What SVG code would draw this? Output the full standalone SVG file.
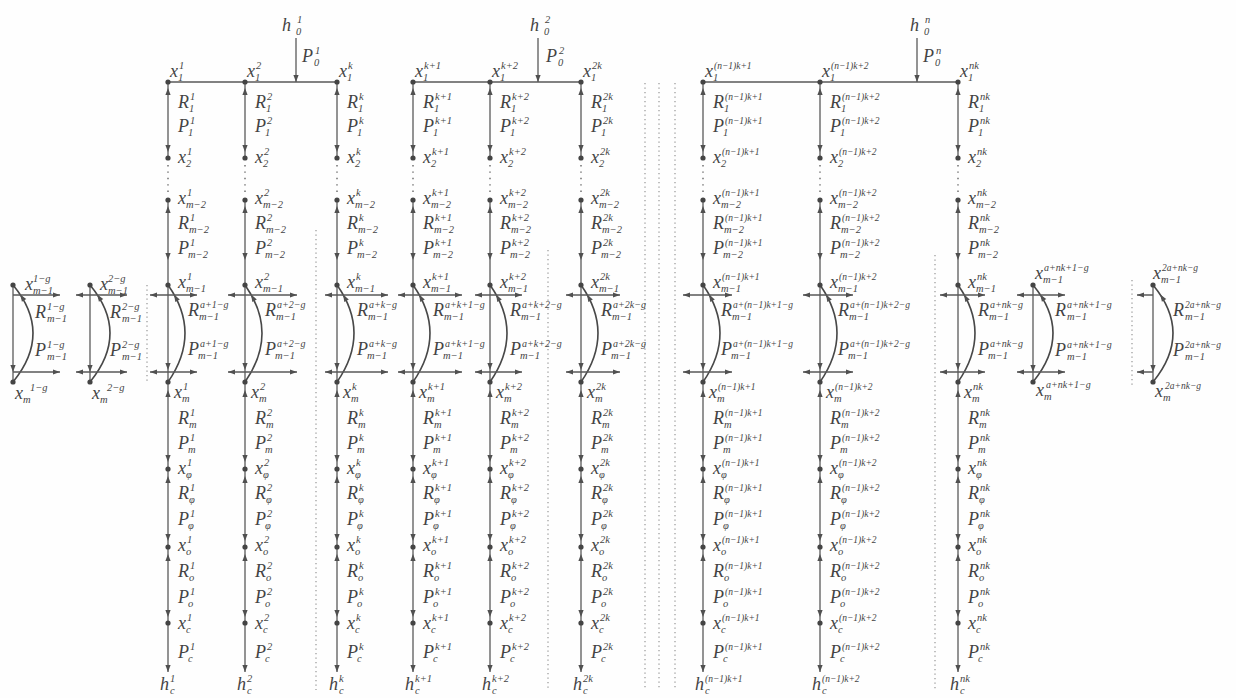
<svg xmlns="http://www.w3.org/2000/svg" width="1236" height="698" viewBox="0 0 1236 698">
<style>
.t{font-family:"Liberation Serif","Times New Roman","DejaVu Serif",serif;font-style:italic;font-size:18px;fill:#444}
.s{font-size:10.5px}
.a{font-size:10px}
.q{font-size:9.5px}
.ln{stroke:#5a5a5a;stroke-width:1.3;fill:none}
.arc{stroke:#484848;stroke-width:1.6;fill:none}
.dt{stroke:#666;stroke-width:1.4;stroke-dasharray:1.4 5;fill:none}
.sep{stroke:#8a8a8a;stroke-width:1.1;stroke-dasharray:1.3 3.2;fill:none}
.ah{fill:#505050}
.nd{fill:#444}
</style>
<defs>
<path id="hu" class="ah" d="M0,0L-2.6,7L2.6,7Z"/>
<path id="hd" class="ah" d="M0,0L-2.6,-7L2.6,-7Z"/>
<path id="hl" class="ah" d="M0,0L7,-2.6L7,2.6Z"/>
<path id="hr" class="ah" d="M0,0L-7,-2.6L-7,2.6Z"/>
<g id="colVert">
<path class="ln" d="M0,82V158M0,200V672"/>
<path class="dt" d="M0,165V196"/>
<use href="#hu" y="88"/><use href="#hd" y="152"/>
<use href="#hu" y="206"/><use href="#hd" y="260"/>
<use href="#hd" y="370"/>
<use href="#hu" y="390"/><use href="#hd" y="462"/>
<use href="#hu" y="476"/><use href="#hd" y="541"/>
<use href="#hu" y="554"/><use href="#hd" y="617"/>
<use href="#hd" y="672"/>
<path class="arc" d="M0,382Q34,333 0,285"/>
<use href="#hr" transform="translate(6.1,294.6) rotate(-119.5)"/>
</g>
<g id="loopVert">
<path class="ln" d="M0,285V382"/>
<use href="#hd" y="372"/>
<path class="arc" d="M0,382Q40,333 0,285"/>
<use href="#hr" transform="translate(7.2,294.6) rotate(-123.6)"/>
</g>
<g id="hRow">
<path class="ln" d="M150,0H197M228,0H297M325,0H388M398,0H462M475,0H522M566,0H620M683,0H732M803,0H853M940,0H985M13,0H60M76,0H127M1017,0H1065M1137,0H1153"/>
<use href="#hl" x="150"/><use href="#hr" x="197"/>
<use href="#hl" x="228"/><use href="#hr" x="297"/>
<use href="#hl" x="325"/><use href="#hr" x="388"/>
<use href="#hl" x="398"/><use href="#hr" x="462"/>
<use href="#hl" x="475"/><use href="#hr" x="522"/>
<use href="#hl" x="566"/><use href="#hr" x="620"/>
<use href="#hl" x="683"/><use href="#hr" x="732"/>
<use href="#hl" x="803"/><use href="#hr" x="853"/>
<use href="#hl" x="940"/><use href="#hr" x="985"/>
<use href="#hr" x="60"/>
<use href="#hl" x="76"/><use href="#hr" x="127"/>
<use href="#hl" x="1017"/><use href="#hr" x="1065"/>
<use href="#hl" x="1137"/>
</g>
</defs>
<rect width="1236" height="698" fill="#fefefe"/>

<g id="separators">
<path class="sep" d="M147,285V383M316,230V690M548,250V690M645,83V690M659,83V690M675,83V690M935,255V690M1132,280V385"/>
</g>

<g id="connectors">
<path class="ln" d="M168,82H337M413,82H581M703,82H958M296,38V82M538,38V82M917,38V82"/>
<use href="#hd" x="296" y="82"/><use href="#hd" x="538" y="82"/><use href="#hd" x="917" y="82"/>
<use href="#colVert" x="168"/><use href="#colVert" x="245"/><use href="#colVert" x="337"/>
<use href="#colVert" x="413"/><use href="#colVert" x="490"/><use href="#colVert" x="581"/>
<use href="#colVert" x="703"/><use href="#colVert" x="820"/><use href="#colVert" x="958"/>
<use href="#loopVert" x="13"/><use href="#loopVert" x="90"/><use href="#loopVert" x="1033"/><use href="#loopVert" x="1153"/>
<use href="#hRow" y="295"/><use href="#hRow" y="372"/>

<g class="t">
<text x="302" y="62">P<tspan class="s" x="315" y="54">1</tspan><tspan class="s" x="314" y="65.5">0</tspan></text>
<text x="546" y="62">P<tspan class="s" x="559" y="54">2</tspan><tspan class="s" x="558" y="65.5">0</tspan></text>
<text x="923" y="62">P<tspan class="s" x="936" y="54">n</tspan><tspan class="s" x="935" y="65.5">0</tspan></text>
</g>

<g id="lbl-c1" class="t" transform="translate(168,0)">
<text x="10" y="108">R<tspan class="s" x="22" y="100">1</tspan><tspan class="s" x="21" y="111.5">1</tspan></text>
<text x="10" y="132">P<tspan class="s" x="22" y="124">1</tspan><tspan class="s" x="20" y="135.5">1</tspan></text>
<text x="10" y="229">R<tspan class="s" x="22" y="221">1</tspan><tspan class="s" x="21" y="232.5">m−2</tspan></text>
<text x="10" y="254">P<tspan class="s" x="22" y="246">1</tspan><tspan class="s" x="20" y="257.5">m−2</tspan></text>
<text x="20" y="316">R<tspan class="a" x="32" y="308">a+1−g</tspan><tspan class="s" x="31" y="319.5">m−1</tspan></text>
<text x="20" y="355">P<tspan class="a" x="32" y="347">a+1−g</tspan><tspan class="s" x="30" y="358.5">m−1</tspan></text>
<text x="10" y="424">R<tspan class="s" x="22" y="416">1</tspan><tspan class="s" x="21" y="427.5">m</tspan></text>
<text x="10" y="449">P<tspan class="s" x="22" y="441">1</tspan><tspan class="s" x="20" y="452.5">m</tspan></text>
<text x="10" y="499">R<tspan class="s" x="22" y="491">1</tspan><tspan class="s" x="21" y="502.5">φ</tspan></text>
<text x="10" y="525">P<tspan class="s" x="22" y="517">1</tspan><tspan class="s" x="20" y="528.5">φ</tspan></text>
<text x="10" y="577">R<tspan class="s" x="22" y="569">1</tspan><tspan class="s" x="21" y="580.5">o</tspan></text>
<text x="10" y="603">P<tspan class="s" x="22" y="595">1</tspan><tspan class="s" x="20" y="606.5">o</tspan></text>
<text x="10" y="658">P<tspan class="s" x="22" y="650">1</tspan><tspan class="s" x="20" y="661.5">c</tspan></text>
</g>
<g id="lbl-c2" class="t" transform="translate(245,0)">
<text x="10" y="108">R<tspan class="s" x="22" y="100">2</tspan><tspan class="s" x="21" y="111.5">1</tspan></text>
<text x="10" y="132">P<tspan class="s" x="22" y="124">2</tspan><tspan class="s" x="20" y="135.5">1</tspan></text>
<text x="10" y="229">R<tspan class="s" x="22" y="221">2</tspan><tspan class="s" x="21" y="232.5">m−2</tspan></text>
<text x="10" y="254">P<tspan class="s" x="22" y="246">2</tspan><tspan class="s" x="20" y="257.5">m−2</tspan></text>
<text x="20" y="316">R<tspan class="a" x="32" y="308">a+2−g</tspan><tspan class="s" x="31" y="319.5">m−1</tspan></text>
<text x="20" y="355">P<tspan class="a" x="32" y="347">a+2−g</tspan><tspan class="s" x="30" y="358.5">m−1</tspan></text>
<text x="10" y="424">R<tspan class="s" x="22" y="416">2</tspan><tspan class="s" x="21" y="427.5">m</tspan></text>
<text x="10" y="449">P<tspan class="s" x="22" y="441">2</tspan><tspan class="s" x="20" y="452.5">m</tspan></text>
<text x="10" y="499">R<tspan class="s" x="22" y="491">2</tspan><tspan class="s" x="21" y="502.5">φ</tspan></text>
<text x="10" y="525">P<tspan class="s" x="22" y="517">2</tspan><tspan class="s" x="20" y="528.5">φ</tspan></text>
<text x="10" y="577">R<tspan class="s" x="22" y="569">2</tspan><tspan class="s" x="21" y="580.5">o</tspan></text>
<text x="10" y="603">P<tspan class="s" x="22" y="595">2</tspan><tspan class="s" x="20" y="606.5">o</tspan></text>
<text x="10" y="658">P<tspan class="s" x="22" y="650">2</tspan><tspan class="s" x="20" y="661.5">c</tspan></text>
</g>
<g id="lbl-ck" class="t" transform="translate(337,0)">
<text x="10" y="108">R<tspan class="s" x="22" y="100">k</tspan><tspan class="s" x="21" y="111.5">1</tspan></text>
<text x="10" y="132">P<tspan class="s" x="22" y="124">k</tspan><tspan class="s" x="20" y="135.5">1</tspan></text>
<text x="10" y="229">R<tspan class="s" x="22" y="221">k</tspan><tspan class="s" x="21" y="232.5">m−2</tspan></text>
<text x="10" y="254">P<tspan class="s" x="22" y="246">k</tspan><tspan class="s" x="20" y="257.5">m−2</tspan></text>
<text x="20" y="316">R<tspan class="a" x="32" y="308">a+k−g</tspan><tspan class="s" x="31" y="319.5">m−1</tspan></text>
<text x="20" y="355">P<tspan class="a" x="32" y="347">a+k−g</tspan><tspan class="s" x="30" y="358.5">m−1</tspan></text>
<text x="10" y="424">R<tspan class="s" x="22" y="416">k</tspan><tspan class="s" x="21" y="427.5">m</tspan></text>
<text x="10" y="449">P<tspan class="s" x="22" y="441">k</tspan><tspan class="s" x="20" y="452.5">m</tspan></text>
<text x="10" y="499">R<tspan class="s" x="22" y="491">k</tspan><tspan class="s" x="21" y="502.5">φ</tspan></text>
<text x="10" y="525">P<tspan class="s" x="22" y="517">k</tspan><tspan class="s" x="20" y="528.5">φ</tspan></text>
<text x="10" y="577">R<tspan class="s" x="22" y="569">k</tspan><tspan class="s" x="21" y="580.5">o</tspan></text>
<text x="10" y="603">P<tspan class="s" x="22" y="595">k</tspan><tspan class="s" x="20" y="606.5">o</tspan></text>
<text x="10" y="658">P<tspan class="s" x="22" y="650">k</tspan><tspan class="s" x="20" y="661.5">c</tspan></text>
</g>
<g id="lbl-ck1" class="t" transform="translate(413,0)">
<text x="10" y="108">R<tspan class="s" x="22" y="100">k+1</tspan><tspan class="s" x="21" y="111.5">1</tspan></text>
<text x="10" y="132">P<tspan class="s" x="22" y="124">k+1</tspan><tspan class="s" x="20" y="135.5">1</tspan></text>
<text x="10" y="229">R<tspan class="s" x="22" y="221">k+1</tspan><tspan class="s" x="21" y="232.5">m−2</tspan></text>
<text x="10" y="254">P<tspan class="s" x="22" y="246">k+1</tspan><tspan class="s" x="20" y="257.5">m−2</tspan></text>
<text x="20" y="316">R<tspan class="a" x="32" y="308">a+k+1−g</tspan><tspan class="s" x="31" y="319.5">m−1</tspan></text>
<text x="20" y="355">P<tspan class="a" x="32" y="347">a+k+1−g</tspan><tspan class="s" x="30" y="358.5">m−1</tspan></text>
<text x="10" y="424">R<tspan class="s" x="22" y="416">k+1</tspan><tspan class="s" x="21" y="427.5">m</tspan></text>
<text x="10" y="449">P<tspan class="s" x="22" y="441">k+1</tspan><tspan class="s" x="20" y="452.5">m</tspan></text>
<text x="10" y="499">R<tspan class="s" x="22" y="491">k+1</tspan><tspan class="s" x="21" y="502.5">φ</tspan></text>
<text x="10" y="525">P<tspan class="s" x="22" y="517">k+1</tspan><tspan class="s" x="20" y="528.5">φ</tspan></text>
<text x="10" y="577">R<tspan class="s" x="22" y="569">k+1</tspan><tspan class="s" x="21" y="580.5">o</tspan></text>
<text x="10" y="603">P<tspan class="s" x="22" y="595">k+1</tspan><tspan class="s" x="20" y="606.5">o</tspan></text>
<text x="10" y="658">P<tspan class="s" x="22" y="650">k+1</tspan><tspan class="s" x="20" y="661.5">c</tspan></text>
</g>
<g id="lbl-ck2" class="t" transform="translate(490,0)">
<text x="10" y="108">R<tspan class="s" x="22" y="100">k+2</tspan><tspan class="s" x="21" y="111.5">1</tspan></text>
<text x="10" y="132">P<tspan class="s" x="22" y="124">k+2</tspan><tspan class="s" x="20" y="135.5">1</tspan></text>
<text x="10" y="229">R<tspan class="s" x="22" y="221">k+2</tspan><tspan class="s" x="21" y="232.5">m−2</tspan></text>
<text x="10" y="254">P<tspan class="s" x="22" y="246">k+2</tspan><tspan class="s" x="20" y="257.5">m−2</tspan></text>
<text x="20" y="316">R<tspan class="a" x="32" y="308">a+k+2−g</tspan><tspan class="s" x="31" y="319.5">m−1</tspan></text>
<text x="20" y="355">P<tspan class="a" x="32" y="347">a+k+2−g</tspan><tspan class="s" x="30" y="358.5">m−1</tspan></text>
<text x="10" y="424">R<tspan class="s" x="22" y="416">k+2</tspan><tspan class="s" x="21" y="427.5">m</tspan></text>
<text x="10" y="449">P<tspan class="s" x="22" y="441">k+2</tspan><tspan class="s" x="20" y="452.5">m</tspan></text>
<text x="10" y="499">R<tspan class="s" x="22" y="491">k+2</tspan><tspan class="s" x="21" y="502.5">φ</tspan></text>
<text x="10" y="525">P<tspan class="s" x="22" y="517">k+2</tspan><tspan class="s" x="20" y="528.5">φ</tspan></text>
<text x="10" y="577">R<tspan class="s" x="22" y="569">k+2</tspan><tspan class="s" x="21" y="580.5">o</tspan></text>
<text x="10" y="603">P<tspan class="s" x="22" y="595">k+2</tspan><tspan class="s" x="20" y="606.5">o</tspan></text>
<text x="10" y="658">P<tspan class="s" x="22" y="650">k+2</tspan><tspan class="s" x="20" y="661.5">c</tspan></text>
</g>
<g id="lbl-c2k" class="t" transform="translate(581,0)">
<text x="10" y="108">R<tspan class="s" x="22" y="100">2k</tspan><tspan class="s" x="21" y="111.5">1</tspan></text>
<text x="10" y="132">P<tspan class="s" x="22" y="124">2k</tspan><tspan class="s" x="20" y="135.5">1</tspan></text>
<text x="10" y="229">R<tspan class="s" x="22" y="221">2k</tspan><tspan class="s" x="21" y="232.5">m−2</tspan></text>
<text x="10" y="254">P<tspan class="s" x="22" y="246">2k</tspan><tspan class="s" x="20" y="257.5">m−2</tspan></text>
<text x="20" y="316">R<tspan class="a" x="32" y="308">a+2k−g</tspan><tspan class="s" x="31" y="319.5">m−1</tspan></text>
<text x="20" y="355">P<tspan class="a" x="32" y="347">a+2k−g</tspan><tspan class="s" x="30" y="358.5">m−1</tspan></text>
<text x="10" y="424">R<tspan class="s" x="22" y="416">2k</tspan><tspan class="s" x="21" y="427.5">m</tspan></text>
<text x="10" y="449">P<tspan class="s" x="22" y="441">2k</tspan><tspan class="s" x="20" y="452.5">m</tspan></text>
<text x="10" y="499">R<tspan class="s" x="22" y="491">2k</tspan><tspan class="s" x="21" y="502.5">φ</tspan></text>
<text x="10" y="525">P<tspan class="s" x="22" y="517">2k</tspan><tspan class="s" x="20" y="528.5">φ</tspan></text>
<text x="10" y="577">R<tspan class="s" x="22" y="569">2k</tspan><tspan class="s" x="21" y="580.5">o</tspan></text>
<text x="10" y="603">P<tspan class="s" x="22" y="595">2k</tspan><tspan class="s" x="20" y="606.5">o</tspan></text>
<text x="10" y="658">P<tspan class="s" x="22" y="650">2k</tspan><tspan class="s" x="20" y="661.5">c</tspan></text>
</g>
<g id="lbl-cn1" class="t" transform="translate(703,0)">
<text x="10" y="108">R<tspan class="q" x="22" y="100">(n−1)k+1</tspan><tspan class="s" x="21" y="111.5">1</tspan></text>
<text x="10" y="132">P<tspan class="q" x="22" y="124">(n−1)k+1</tspan><tspan class="s" x="20" y="135.5">1</tspan></text>
<text x="10" y="229">R<tspan class="q" x="22" y="221">(n−1)k+1</tspan><tspan class="s" x="21" y="232.5">m−2</tspan></text>
<text x="10" y="254">P<tspan class="q" x="22" y="246">(n−1)k+1</tspan><tspan class="s" x="20" y="257.5">m−2</tspan></text>
<text x="18" y="316">R<tspan class="q" x="30" y="308">a+(n−1)k+1−g</tspan><tspan class="s" x="29" y="319.5">m−1</tspan></text>
<text x="18" y="355">P<tspan class="q" x="30" y="347">a+(n−1)k+1−g</tspan><tspan class="s" x="28" y="358.5">m−1</tspan></text>
<text x="10" y="424">R<tspan class="q" x="22" y="416">(n−1)k+1</tspan><tspan class="s" x="21" y="427.5">m</tspan></text>
<text x="10" y="449">P<tspan class="q" x="22" y="441">(n−1)k+1</tspan><tspan class="s" x="20" y="452.5">m</tspan></text>
<text x="10" y="499">R<tspan class="q" x="22" y="491">(n−1)k+1</tspan><tspan class="s" x="21" y="502.5">φ</tspan></text>
<text x="10" y="525">P<tspan class="q" x="22" y="517">(n−1)k+1</tspan><tspan class="s" x="20" y="528.5">φ</tspan></text>
<text x="10" y="577">R<tspan class="q" x="22" y="569">(n−1)k+1</tspan><tspan class="s" x="21" y="580.5">o</tspan></text>
<text x="10" y="603">P<tspan class="q" x="22" y="595">(n−1)k+1</tspan><tspan class="s" x="20" y="606.5">o</tspan></text>
<text x="10" y="658">P<tspan class="q" x="22" y="650">(n−1)k+1</tspan><tspan class="s" x="20" y="661.5">c</tspan></text>
</g>
<g id="lbl-cn2" class="t" transform="translate(820,0)">
<text x="10" y="108">R<tspan class="q" x="22" y="100">(n−1)k+2</tspan><tspan class="s" x="21" y="111.5">1</tspan></text>
<text x="10" y="132">P<tspan class="q" x="22" y="124">(n−1)k+2</tspan><tspan class="s" x="20" y="135.5">1</tspan></text>
<text x="10" y="229">R<tspan class="q" x="22" y="221">(n−1)k+2</tspan><tspan class="s" x="21" y="232.5">m−2</tspan></text>
<text x="10" y="254">P<tspan class="q" x="22" y="246">(n−1)k+2</tspan><tspan class="s" x="20" y="257.5">m−2</tspan></text>
<text x="18" y="316">R<tspan class="q" x="30" y="308">a+(n−1)k+2−g</tspan><tspan class="s" x="29" y="319.5">m−1</tspan></text>
<text x="18" y="355">P<tspan class="q" x="30" y="347">a+(n−1)k+2−g</tspan><tspan class="s" x="28" y="358.5">m−1</tspan></text>
<text x="10" y="424">R<tspan class="q" x="22" y="416">(n−1)k+2</tspan><tspan class="s" x="21" y="427.5">m</tspan></text>
<text x="10" y="449">P<tspan class="q" x="22" y="441">(n−1)k+2</tspan><tspan class="s" x="20" y="452.5">m</tspan></text>
<text x="10" y="499">R<tspan class="q" x="22" y="491">(n−1)k+2</tspan><tspan class="s" x="21" y="502.5">φ</tspan></text>
<text x="10" y="525">P<tspan class="q" x="22" y="517">(n−1)k+2</tspan><tspan class="s" x="20" y="528.5">φ</tspan></text>
<text x="10" y="577">R<tspan class="q" x="22" y="569">(n−1)k+2</tspan><tspan class="s" x="21" y="580.5">o</tspan></text>
<text x="10" y="603">P<tspan class="q" x="22" y="595">(n−1)k+2</tspan><tspan class="s" x="20" y="606.5">o</tspan></text>
<text x="10" y="658">P<tspan class="q" x="22" y="650">(n−1)k+2</tspan><tspan class="s" x="20" y="661.5">c</tspan></text>
</g>
<g id="lbl-cnk" class="t" transform="translate(958,0)">
<text x="10" y="108">R<tspan class="s" x="22" y="100">nk</tspan><tspan class="s" x="21" y="111.5">1</tspan></text>
<text x="10" y="132">P<tspan class="s" x="22" y="124">nk</tspan><tspan class="s" x="20" y="135.5">1</tspan></text>
<text x="10" y="229">R<tspan class="s" x="22" y="221">nk</tspan><tspan class="s" x="21" y="232.5">m−2</tspan></text>
<text x="10" y="254">P<tspan class="s" x="22" y="246">nk</tspan><tspan class="s" x="20" y="257.5">m−2</tspan></text>
<text x="20" y="316">R<tspan class="a" x="32" y="308">a+nk−g</tspan><tspan class="s" x="31" y="319.5">m−1</tspan></text>
<text x="20" y="355">P<tspan class="a" x="32" y="347">a+nk−g</tspan><tspan class="s" x="30" y="358.5">m−1</tspan></text>
<text x="10" y="424">R<tspan class="s" x="22" y="416">nk</tspan><tspan class="s" x="21" y="427.5">m</tspan></text>
<text x="10" y="449">P<tspan class="s" x="22" y="441">nk</tspan><tspan class="s" x="20" y="452.5">m</tspan></text>
<text x="10" y="499">R<tspan class="s" x="22" y="491">nk</tspan><tspan class="s" x="21" y="502.5">φ</tspan></text>
<text x="10" y="525">P<tspan class="s" x="22" y="517">nk</tspan><tspan class="s" x="20" y="528.5">φ</tspan></text>
<text x="10" y="577">R<tspan class="s" x="22" y="569">nk</tspan><tspan class="s" x="21" y="580.5">o</tspan></text>
<text x="10" y="603">P<tspan class="s" x="22" y="595">nk</tspan><tspan class="s" x="20" y="606.5">o</tspan></text>
<text x="10" y="658">P<tspan class="s" x="22" y="650">nk</tspan><tspan class="s" x="20" y="661.5">c</tspan></text>
</g>
<g id="lbl-L1" class="t" transform="translate(13,0)">
<text x="22" y="318">R<tspan class="s" x="34" y="310">1−g</tspan><tspan class="s" x="34" y="321.5">m−1</tspan></text>
<text x="22" y="356">P<tspan class="s" x="34" y="348">1−g</tspan><tspan class="s" x="34" y="359.5">m−1</tspan></text>
</g>
<g id="lbl-L2" class="t" transform="translate(90,0)">
<text x="20" y="318">R<tspan class="s" x="32" y="310">2−g</tspan><tspan class="s" x="32" y="321.5">m−1</tspan></text>
<text x="20" y="356">P<tspan class="s" x="32" y="348">2−g</tspan><tspan class="s" x="32" y="359.5">m−1</tspan></text>
</g>
<g id="lbl-R1" class="t" transform="translate(1033,0)">
<text x="22" y="316">R<tspan class="a" x="34" y="308">a+nk+1−g</tspan><tspan class="s" x="34" y="319.5">m−1</tspan></text>
<text x="22" y="356">P<tspan class="a" x="34" y="348">a+nk+1−g</tspan><tspan class="s" x="34" y="359.5">m−1</tspan></text>
</g>
<g id="lbl-R2" class="t" transform="translate(1153,0)">
<text x="20" y="316">R<tspan class="q" x="32" y="308">2a+nk−g</tspan><tspan class="s" x="32" y="319.5">m−1</tspan></text>
<text x="20" y="356">P<tspan class="q" x="32" y="348">2a+nk−g</tspan><tspan class="s" x="32" y="359.5">m−1</tspan></text>
</g>
</g>

<g id="nodes" class="t">
<g id="h0-1"><text x="282" y="31">h<tspan class="s" x="297" y="23">1</tspan><tspan class="s" x="296" y="34.5">0</tspan></text></g>
<g id="h0-2"><text x="530" y="31">h<tspan class="s" x="545" y="23">2</tspan><tspan class="s" x="544" y="34.5">0</tspan></text></g>
<g id="h0-n"><text x="910" y="31">h<tspan class="s" x="925" y="23">n</tspan><tspan class="s" x="924" y="34.5">0</tspan></text></g>

<g id="nodes-c1" transform="translate(168,0)">
<g id="c1-x1"><circle class="nd" cy="82" r="2.6"/><text x="2" y="77">x<tspan class="s" x="11" y="69">1</tspan><tspan class="s" x="10" y="80.5">1</tspan></text></g>
<g id="c1-x2"><circle class="nd" cy="158" r="2.6"/><text x="10" y="163">x<tspan class="s" x="19" y="155">1</tspan><tspan class="s" x="18" y="166.5">2</tspan></text></g>
<g id="c1-xm2"><circle class="nd" cy="200" r="2.6"/><text x="10" y="204">x<tspan class="s" x="19" y="196">1</tspan><tspan class="s" x="18" y="207.5">m−2</tspan></text></g>
<g id="c1-xm1"><circle class="nd" cy="285" r="2.6"/><text x="10" y="288">x<tspan class="s" x="19" y="280">1</tspan><tspan class="s" x="18" y="291.5">m−1</tspan></text></g>
<g id="c1-xm"><circle class="nd" cy="382" r="2.6"/><text x="6" y="398">x<tspan class="s" x="15" y="390">1</tspan><tspan class="s" x="14" y="401.5">m</tspan></text></g>
<g id="c1-xphi"><circle class="nd" cy="469" r="2.6"/><text x="10" y="474">x<tspan class="s" x="19" y="466">1</tspan><tspan class="s" x="18" y="477.5">φ</tspan></text></g>
<g id="c1-xo"><circle class="nd" cy="547" r="2.6"/><text x="10" y="551">x<tspan class="s" x="19" y="543">1</tspan><tspan class="s" x="18" y="554.5">o</tspan></text></g>
<g id="c1-xc"><circle class="nd" cy="623" r="2.6"/><text x="10" y="629">x<tspan class="s" x="19" y="621">1</tspan><tspan class="s" x="18" y="632.5">c</tspan></text></g>
<g id="c1-hc"><text x="-8" y="690">h<tspan class="s" x="2" y="682">1</tspan><tspan class="s" x="2" y="693.5">c</tspan></text></g>
</g>
<g id="nodes-c2" transform="translate(245,0)">
<g id="c2-x1"><circle class="nd" cy="82" r="2.6"/><text x="2" y="77">x<tspan class="s" x="11" y="69">2</tspan><tspan class="s" x="10" y="80.5">1</tspan></text></g>
<g id="c2-x2"><circle class="nd" cy="158" r="2.6"/><text x="10" y="163">x<tspan class="s" x="19" y="155">2</tspan><tspan class="s" x="18" y="166.5">2</tspan></text></g>
<g id="c2-xm2"><circle class="nd" cy="200" r="2.6"/><text x="10" y="204">x<tspan class="s" x="19" y="196">2</tspan><tspan class="s" x="18" y="207.5">m−2</tspan></text></g>
<g id="c2-xm1"><circle class="nd" cy="285" r="2.6"/><text x="10" y="288">x<tspan class="s" x="19" y="280">2</tspan><tspan class="s" x="18" y="291.5">m−1</tspan></text></g>
<g id="c2-xm"><circle class="nd" cy="382" r="2.6"/><text x="6" y="398">x<tspan class="s" x="15" y="390">2</tspan><tspan class="s" x="14" y="401.5">m</tspan></text></g>
<g id="c2-xphi"><circle class="nd" cy="469" r="2.6"/><text x="10" y="474">x<tspan class="s" x="19" y="466">2</tspan><tspan class="s" x="18" y="477.5">φ</tspan></text></g>
<g id="c2-xo"><circle class="nd" cy="547" r="2.6"/><text x="10" y="551">x<tspan class="s" x="19" y="543">2</tspan><tspan class="s" x="18" y="554.5">o</tspan></text></g>
<g id="c2-xc"><circle class="nd" cy="623" r="2.6"/><text x="10" y="629">x<tspan class="s" x="19" y="621">2</tspan><tspan class="s" x="18" y="632.5">c</tspan></text></g>
<g id="c2-hc"><text x="-8" y="690">h<tspan class="s" x="2" y="682">2</tspan><tspan class="s" x="2" y="693.5">c</tspan></text></g>
</g>
<g id="nodes-ck" transform="translate(337,0)">
<g id="ck-x1"><circle class="nd" cy="82" r="2.6"/><text x="2" y="77">x<tspan class="s" x="11" y="69">k</tspan><tspan class="s" x="10" y="80.5">1</tspan></text></g>
<g id="ck-x2"><circle class="nd" cy="158" r="2.6"/><text x="10" y="163">x<tspan class="s" x="19" y="155">k</tspan><tspan class="s" x="18" y="166.5">2</tspan></text></g>
<g id="ck-xm2"><circle class="nd" cy="200" r="2.6"/><text x="10" y="204">x<tspan class="s" x="19" y="196">k</tspan><tspan class="s" x="18" y="207.5">m−2</tspan></text></g>
<g id="ck-xm1"><circle class="nd" cy="285" r="2.6"/><text x="10" y="288">x<tspan class="s" x="19" y="280">k</tspan><tspan class="s" x="18" y="291.5">m−1</tspan></text></g>
<g id="ck-xm"><circle class="nd" cy="382" r="2.6"/><text x="6" y="398">x<tspan class="s" x="15" y="390">k</tspan><tspan class="s" x="14" y="401.5">m</tspan></text></g>
<g id="ck-xphi"><circle class="nd" cy="469" r="2.6"/><text x="10" y="474">x<tspan class="s" x="19" y="466">k</tspan><tspan class="s" x="18" y="477.5">φ</tspan></text></g>
<g id="ck-xo"><circle class="nd" cy="547" r="2.6"/><text x="10" y="551">x<tspan class="s" x="19" y="543">k</tspan><tspan class="s" x="18" y="554.5">o</tspan></text></g>
<g id="ck-xc"><circle class="nd" cy="623" r="2.6"/><text x="10" y="629">x<tspan class="s" x="19" y="621">k</tspan><tspan class="s" x="18" y="632.5">c</tspan></text></g>
<g id="ck-hc"><text x="-8" y="690">h<tspan class="s" x="2" y="682">k</tspan><tspan class="s" x="2" y="693.5">c</tspan></text></g>
</g>
<g id="nodes-ck1" transform="translate(413,0)">
<g id="ck1-x1"><circle class="nd" cy="82" r="2.6"/><text x="2" y="77">x<tspan class="s" x="11" y="69">k+1</tspan><tspan class="s" x="10" y="80.5">1</tspan></text></g>
<g id="ck1-x2"><circle class="nd" cy="158" r="2.6"/><text x="10" y="163">x<tspan class="s" x="19" y="155">k+1</tspan><tspan class="s" x="18" y="166.5">2</tspan></text></g>
<g id="ck1-xm2"><circle class="nd" cy="200" r="2.6"/><text x="10" y="204">x<tspan class="s" x="19" y="196">k+1</tspan><tspan class="s" x="18" y="207.5">m−2</tspan></text></g>
<g id="ck1-xm1"><circle class="nd" cy="285" r="2.6"/><text x="10" y="288">x<tspan class="s" x="19" y="280">k+1</tspan><tspan class="s" x="18" y="291.5">m−1</tspan></text></g>
<g id="ck1-xm"><circle class="nd" cy="382" r="2.6"/><text x="6" y="398">x<tspan class="s" x="15" y="390">k+1</tspan><tspan class="s" x="14" y="401.5">m</tspan></text></g>
<g id="ck1-xphi"><circle class="nd" cy="469" r="2.6"/><text x="10" y="474">x<tspan class="s" x="19" y="466">k+1</tspan><tspan class="s" x="18" y="477.5">φ</tspan></text></g>
<g id="ck1-xo"><circle class="nd" cy="547" r="2.6"/><text x="10" y="551">x<tspan class="s" x="19" y="543">k+1</tspan><tspan class="s" x="18" y="554.5">o</tspan></text></g>
<g id="ck1-xc"><circle class="nd" cy="623" r="2.6"/><text x="10" y="629">x<tspan class="s" x="19" y="621">k+1</tspan><tspan class="s" x="18" y="632.5">c</tspan></text></g>
<g id="ck1-hc"><text x="-8" y="690">h<tspan class="s" x="2" y="682">k+1</tspan><tspan class="s" x="2" y="693.5">c</tspan></text></g>
</g>
<g id="nodes-ck2" transform="translate(490,0)">
<g id="ck2-x1"><circle class="nd" cy="82" r="2.6"/><text x="2" y="77">x<tspan class="s" x="11" y="69">k+2</tspan><tspan class="s" x="10" y="80.5">1</tspan></text></g>
<g id="ck2-x2"><circle class="nd" cy="158" r="2.6"/><text x="10" y="163">x<tspan class="s" x="19" y="155">k+2</tspan><tspan class="s" x="18" y="166.5">2</tspan></text></g>
<g id="ck2-xm2"><circle class="nd" cy="200" r="2.6"/><text x="10" y="204">x<tspan class="s" x="19" y="196">k+2</tspan><tspan class="s" x="18" y="207.5">m−2</tspan></text></g>
<g id="ck2-xm1"><circle class="nd" cy="285" r="2.6"/><text x="10" y="288">x<tspan class="s" x="19" y="280">k+2</tspan><tspan class="s" x="18" y="291.5">m−1</tspan></text></g>
<g id="ck2-xm"><circle class="nd" cy="382" r="2.6"/><text x="6" y="398">x<tspan class="s" x="15" y="390">k+2</tspan><tspan class="s" x="14" y="401.5">m</tspan></text></g>
<g id="ck2-xphi"><circle class="nd" cy="469" r="2.6"/><text x="10" y="474">x<tspan class="s" x="19" y="466">k+2</tspan><tspan class="s" x="18" y="477.5">φ</tspan></text></g>
<g id="ck2-xo"><circle class="nd" cy="547" r="2.6"/><text x="10" y="551">x<tspan class="s" x="19" y="543">k+2</tspan><tspan class="s" x="18" y="554.5">o</tspan></text></g>
<g id="ck2-xc"><circle class="nd" cy="623" r="2.6"/><text x="10" y="629">x<tspan class="s" x="19" y="621">k+2</tspan><tspan class="s" x="18" y="632.5">c</tspan></text></g>
<g id="ck2-hc"><text x="-8" y="690">h<tspan class="s" x="2" y="682">k+2</tspan><tspan class="s" x="2" y="693.5">c</tspan></text></g>
</g>
<g id="nodes-c2k" transform="translate(581,0)">
<g id="c2k-x1"><circle class="nd" cy="82" r="2.6"/><text x="2" y="77">x<tspan class="s" x="11" y="69">2k</tspan><tspan class="s" x="10" y="80.5">1</tspan></text></g>
<g id="c2k-x2"><circle class="nd" cy="158" r="2.6"/><text x="10" y="163">x<tspan class="s" x="19" y="155">2k</tspan><tspan class="s" x="18" y="166.5">2</tspan></text></g>
<g id="c2k-xm2"><circle class="nd" cy="200" r="2.6"/><text x="10" y="204">x<tspan class="s" x="19" y="196">2k</tspan><tspan class="s" x="18" y="207.5">m−2</tspan></text></g>
<g id="c2k-xm1"><circle class="nd" cy="285" r="2.6"/><text x="10" y="288">x<tspan class="s" x="19" y="280">2k</tspan><tspan class="s" x="18" y="291.5">m−1</tspan></text></g>
<g id="c2k-xm"><circle class="nd" cy="382" r="2.6"/><text x="6" y="398">x<tspan class="s" x="15" y="390">2k</tspan><tspan class="s" x="14" y="401.5">m</tspan></text></g>
<g id="c2k-xphi"><circle class="nd" cy="469" r="2.6"/><text x="10" y="474">x<tspan class="s" x="19" y="466">2k</tspan><tspan class="s" x="18" y="477.5">φ</tspan></text></g>
<g id="c2k-xo"><circle class="nd" cy="547" r="2.6"/><text x="10" y="551">x<tspan class="s" x="19" y="543">2k</tspan><tspan class="s" x="18" y="554.5">o</tspan></text></g>
<g id="c2k-xc"><circle class="nd" cy="623" r="2.6"/><text x="10" y="629">x<tspan class="s" x="19" y="621">2k</tspan><tspan class="s" x="18" y="632.5">c</tspan></text></g>
<g id="c2k-hc"><text x="-8" y="690">h<tspan class="s" x="2" y="682">2k</tspan><tspan class="s" x="2" y="693.5">c</tspan></text></g>
</g>
<g id="nodes-cn1" transform="translate(703,0)">
<g id="cn1-x1"><circle class="nd" cy="82" r="2.6"/><text x="2" y="77">x<tspan class="q" x="11" y="69">(n−1)k+1</tspan><tspan class="s" x="10" y="80.5">1</tspan></text></g>
<g id="cn1-x2"><circle class="nd" cy="158" r="2.6"/><text x="10" y="163">x<tspan class="q" x="19" y="155">(n−1)k+1</tspan><tspan class="s" x="18" y="166.5">2</tspan></text></g>
<g id="cn1-xm2"><circle class="nd" cy="200" r="2.6"/><text x="10" y="204">x<tspan class="q" x="19" y="196">(n−1)k+1</tspan><tspan class="s" x="18" y="207.5">m−2</tspan></text></g>
<g id="cn1-xm1"><circle class="nd" cy="285" r="2.6"/><text x="10" y="288">x<tspan class="q" x="19" y="280">(n−1)k+1</tspan><tspan class="s" x="18" y="291.5">m−1</tspan></text></g>
<g id="cn1-xm"><circle class="nd" cy="382" r="2.6"/><text x="6" y="398">x<tspan class="q" x="15" y="390">(n−1)k+1</tspan><tspan class="s" x="14" y="401.5">m</tspan></text></g>
<g id="cn1-xphi"><circle class="nd" cy="469" r="2.6"/><text x="10" y="474">x<tspan class="q" x="19" y="466">(n−1)k+1</tspan><tspan class="s" x="18" y="477.5">φ</tspan></text></g>
<g id="cn1-xo"><circle class="nd" cy="547" r="2.6"/><text x="10" y="551">x<tspan class="q" x="19" y="543">(n−1)k+1</tspan><tspan class="s" x="18" y="554.5">o</tspan></text></g>
<g id="cn1-xc"><circle class="nd" cy="623" r="2.6"/><text x="10" y="629">x<tspan class="q" x="19" y="621">(n−1)k+1</tspan><tspan class="s" x="18" y="632.5">c</tspan></text></g>
<g id="cn1-hc"><text x="-8" y="690">h<tspan class="q" x="2" y="682">(n−1)k+1</tspan><tspan class="s" x="2" y="693.5">c</tspan></text></g>
</g>
<g id="nodes-cn2" transform="translate(820,0)">
<g id="cn2-x1"><circle class="nd" cy="82" r="2.6"/><text x="2" y="77">x<tspan class="q" x="11" y="69">(n−1)k+2</tspan><tspan class="s" x="10" y="80.5">1</tspan></text></g>
<g id="cn2-x2"><circle class="nd" cy="158" r="2.6"/><text x="10" y="163">x<tspan class="q" x="19" y="155">(n−1)k+2</tspan><tspan class="s" x="18" y="166.5">2</tspan></text></g>
<g id="cn2-xm2"><circle class="nd" cy="200" r="2.6"/><text x="10" y="204">x<tspan class="q" x="19" y="196">(n−1)k+2</tspan><tspan class="s" x="18" y="207.5">m−2</tspan></text></g>
<g id="cn2-xm1"><circle class="nd" cy="285" r="2.6"/><text x="10" y="288">x<tspan class="q" x="19" y="280">(n−1)k+2</tspan><tspan class="s" x="18" y="291.5">m−1</tspan></text></g>
<g id="cn2-xm"><circle class="nd" cy="382" r="2.6"/><text x="6" y="398">x<tspan class="q" x="15" y="390">(n−1)k+2</tspan><tspan class="s" x="14" y="401.5">m</tspan></text></g>
<g id="cn2-xphi"><circle class="nd" cy="469" r="2.6"/><text x="10" y="474">x<tspan class="q" x="19" y="466">(n−1)k+2</tspan><tspan class="s" x="18" y="477.5">φ</tspan></text></g>
<g id="cn2-xo"><circle class="nd" cy="547" r="2.6"/><text x="10" y="551">x<tspan class="q" x="19" y="543">(n−1)k+2</tspan><tspan class="s" x="18" y="554.5">o</tspan></text></g>
<g id="cn2-xc"><circle class="nd" cy="623" r="2.6"/><text x="10" y="629">x<tspan class="q" x="19" y="621">(n−1)k+2</tspan><tspan class="s" x="18" y="632.5">c</tspan></text></g>
<g id="cn2-hc"><text x="-8" y="690">h<tspan class="q" x="2" y="682">(n−1)k+2</tspan><tspan class="s" x="2" y="693.5">c</tspan></text></g>
</g>
<g id="nodes-cnk" transform="translate(958,0)">
<g id="cnk-x1"><circle class="nd" cy="82" r="2.6"/><text x="2" y="77">x<tspan class="s" x="11" y="69">nk</tspan><tspan class="s" x="10" y="80.5">1</tspan></text></g>
<g id="cnk-x2"><circle class="nd" cy="158" r="2.6"/><text x="10" y="163">x<tspan class="s" x="19" y="155">nk</tspan><tspan class="s" x="18" y="166.5">2</tspan></text></g>
<g id="cnk-xm2"><circle class="nd" cy="200" r="2.6"/><text x="10" y="204">x<tspan class="s" x="19" y="196">nk</tspan><tspan class="s" x="18" y="207.5">m−2</tspan></text></g>
<g id="cnk-xm1"><circle class="nd" cy="285" r="2.6"/><text x="10" y="288">x<tspan class="s" x="19" y="280">nk</tspan><tspan class="s" x="18" y="291.5">m−1</tspan></text></g>
<g id="cnk-xm"><circle class="nd" cy="382" r="2.6"/><text x="6" y="398">x<tspan class="s" x="15" y="390">nk</tspan><tspan class="s" x="14" y="401.5">m</tspan></text></g>
<g id="cnk-xphi"><circle class="nd" cy="469" r="2.6"/><text x="10" y="474">x<tspan class="s" x="19" y="466">nk</tspan><tspan class="s" x="18" y="477.5">φ</tspan></text></g>
<g id="cnk-xo"><circle class="nd" cy="547" r="2.6"/><text x="10" y="551">x<tspan class="s" x="19" y="543">nk</tspan><tspan class="s" x="18" y="554.5">o</tspan></text></g>
<g id="cnk-xc"><circle class="nd" cy="623" r="2.6"/><text x="10" y="629">x<tspan class="s" x="19" y="621">nk</tspan><tspan class="s" x="18" y="632.5">c</tspan></text></g>
<g id="cnk-hc"><text x="-8" y="690">h<tspan class="s" x="2" y="682">nk</tspan><tspan class="s" x="2" y="693.5">c</tspan></text></g>
</g>

<g id="nodes-L1" transform="translate(13,0)">
<g id="L1-xm1"><circle class="nd" cy="285" r="2.6"/><text x="12" y="290">x<tspan class="s" x="20" y="282">1−g</tspan><tspan class="s" x="20" y="293.5">m−1</tspan></text></g>
<g id="L1-xm"><circle class="nd" cy="382" r="2.6"/><text x="2" y="399">x<tspan class="s" x="17" y="391">1−g</tspan><tspan class="s" x="10" y="402.5">m</tspan></text></g>
</g>
<g id="nodes-L2" transform="translate(90,0)">
<g id="L2-xm1"><circle class="nd" cy="285" r="2.6"/><text x="10" y="290">x<tspan class="s" x="18" y="282">2−g</tspan><tspan class="s" x="18" y="293.5">m−1</tspan></text></g>
<g id="L2-xm"><circle class="nd" cy="382" r="2.6"/><text x="2" y="399">x<tspan class="s" x="17" y="391">2−g</tspan><tspan class="s" x="10" y="402.5">m</tspan></text></g>
</g>
<g id="nodes-R1" transform="translate(1033,0)">
<g id="R1-xm1"><circle class="nd" cy="285" r="2.6"/><text x="2" y="279">x<tspan class="a" x="11" y="271">a+nk+1−g</tspan><tspan class="s" x="10" y="282.5">m−1</tspan></text></g>
<g id="R1-xm"><circle class="nd" cy="382" r="2.6"/><text x="3" y="396">x<tspan class="a" x="13" y="388">a+nk+1−g</tspan><tspan class="s" x="11" y="399.5">m</tspan></text></g>
</g>
<g id="nodes-R2" transform="translate(1153,0)">
<g id="R2-xm1"><circle class="nd" cy="285" r="2.6"/><text x="0" y="279">x<tspan class="q" x="9" y="271">2a+nk−g</tspan><tspan class="s" x="8" y="282.5">m−1</tspan></text></g>
<g id="R2-xm"><circle class="nd" cy="382" r="2.6"/><text x="2" y="397">x<tspan class="q" x="12" y="389">2a+nk−g</tspan><tspan class="s" x="10" y="400.5">m</tspan></text></g>
</g>
</g>
</svg>
